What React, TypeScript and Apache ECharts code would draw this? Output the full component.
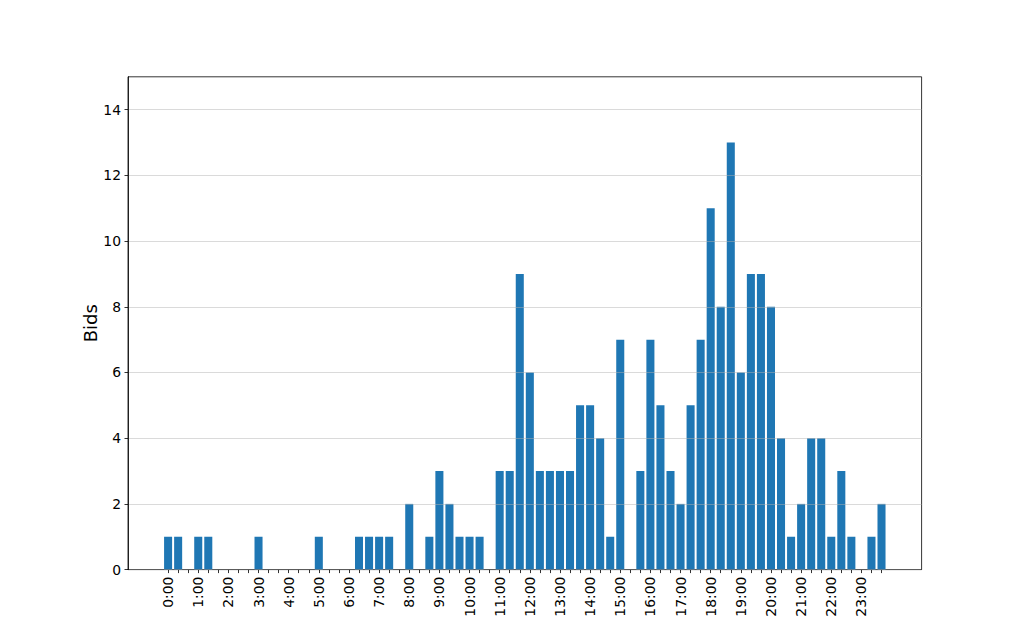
import React, { useEffect, useRef } from "react";
import * as echarts from "echarts";

// 20-minute bins over the day
const bins: string[] = [
  "0:00", "0:20", "0:40", "1:00", "1:20", "1:40", "2:00", "2:20", "2:40",
  "3:00", "3:20", "3:40", "4:00", "4:20", "4:40", "5:00", "5:20", "5:40",
  "6:00", "6:20", "6:40", "7:00", "7:20", "7:40", "8:00", "8:20", "8:40",
  "9:00", "9:20", "9:40", "10:00", "10:20", "10:40", "11:00", "11:20", "11:40",
  "12:00", "12:20", "12:40", "13:00", "13:20", "13:40", "14:00", "14:20", "14:40",
  "15:00", "15:20", "15:40", "16:00", "16:20", "16:40", "17:00", "17:20", "17:40",
  "18:00", "18:20", "18:40", "19:00", "19:20", "19:40", "20:00", "20:20", "20:40",
  "21:00", "21:20", "21:40", "22:00", "22:20", "22:40", "23:00", "23:20", "23:40",
];

const bids: number[] = [
  1, 1, 0, 1, 1, 0, 0, 0, 0,
  1, 0, 0, 0, 0, 0, 1, 0, 0,
  0, 1, 1, 1, 1, 0, 2, 0, 1,
  3, 2, 1, 1, 1, 0, 3, 3, 9,
  6, 3, 3, 3, 3, 5, 5, 4, 1,
  7, 0, 3, 7, 5, 3, 2, 5, 7,
  11, 8, 13, 6, 9, 9, 8, 4, 1,
  2, 4, 4, 1, 3, 1, 0, 1, 2,
];

const hourLabels: string[] = [
  "0:00", "1:00", "2:00", "3:00", "4:00", "5:00", "6:00", "7:00",
  "8:00", "9:00", "10:00", "11:00", "12:00", "13:00", "14:00", "15:00",
  "16:00", "17:00", "18:00", "19:00", "20:00", "21:00", "22:00", "23:00",
];

const yTicks: number[] = [0, 2, 4, 6, 8, 10, 12, 14];

const FONT = "DejaVu Sans";

export default function App() {
  const ref = useRef<HTMLDivElement>(null);

  useEffect(() => {
    document.body.style.margin = "0";
    if (!ref.current) return;
    const chart = echarts.init(ref.current, undefined, { renderer: "svg" });

    const tickValues = bins.map((_, i) => i);
    const labelValues = hourLabels.map((h) => bins.indexOf(h));

    chart.setOption({
      animation: false,
      backgroundColor: "#ffffff",
      grid: {
        left: 128,
        right: 102.4,
        top: 76.8,
        bottom: 70.4,
        show: true,
        borderColor: "#000000",
        borderWidth: 0.8,
        backgroundColor: "transparent",
      },
      xAxis: {
        type: "value",
        min: -3.99,
        max: 74.99,
        axisLine: { show: true, onZero: false, lineStyle: { color: "#000000", width: 0.8 } },
        axisTick: {
          show: true,
          customValues: tickValues,
          length: 3.5,
          lineStyle: { color: "#000000", width: 0.8 },
        },
        axisLabel: {
          customValues: labelValues,
          rotate: 90,
          margin: 7,
          formatter: (v: number) => bins[Math.round(v)] ?? "",
          fontSize: 13.9,
          color: "#000000",
          fontFamily: FONT,
        },
        splitLine: { show: false },
      },
      yAxis: {
        type: "value",
        min: 0,
        max: 15,
        interval: 2,
        z: 3,
        name: "Bids",
        nameLocation: "middle",
        nameGap: 29,
        nameMoveOverlap: false,
        nameTextStyle: { fontSize: 18, color: "#000000", fontFamily: FONT },
        axisLine: { show: true, onZero: false, lineStyle: { color: "#000000", width: 0.8 } },
        axisTick: {
          show: true,
          customValues: yTicks,
          length: 3.5,
          lineStyle: { color: "#000000", width: 0.8 },
        },
        axisLabel: {
          customValues: yTicks,
          margin: 7,
          fontSize: 13.9,
          color: "#000000",
          fontFamily: FONT,
        },
        splitLine: {
          show: true,
          lineStyle: { color: "rgba(176,176,176,0.6)", width: 0.8 },
        },
      },
      series: [
        {
          type: "bar",
          data: bins.map((_, i) => [i, bids[i]]),
          barWidth: 8.04,
          itemStyle: { color: "#1f77b4" },
          silent: true,
        },
      ],
    });

    return () => chart.dispose();
  }, []);

  return <div ref={ref} style={{ width: 1024, height: 640 }} />;
}
